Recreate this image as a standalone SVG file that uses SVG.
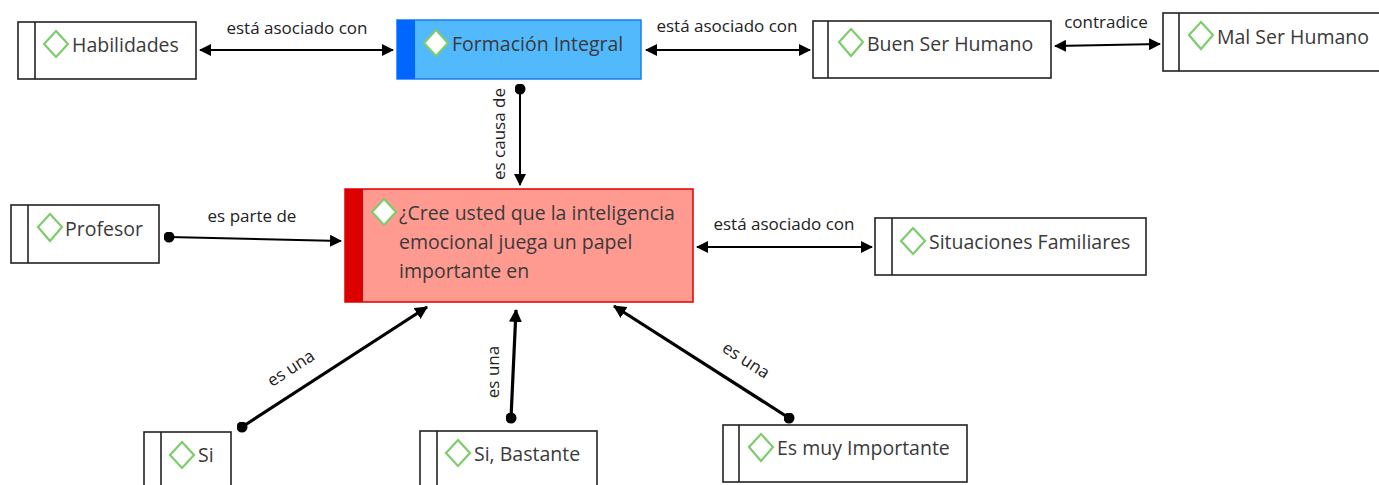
<svg xmlns="http://www.w3.org/2000/svg" width="1379" height="485" viewBox="0 0 1379 485">
<defs>
<style>
.box{fill:#fff;stroke:#222;stroke-width:1.6}
.div{stroke:#222;stroke-width:1.6}
.dia{fill:#fff;stroke:#7dcc6b;stroke-width:2.2}
.t{font-family:"Open Sans","Noto Sans",sans-serif;font-size:19.5px;fill:#3a3a3a}
.lbl{font-family:"Open Sans","Noto Sans",sans-serif;font-size:17px;fill:#222;text-anchor:middle}
.c{stroke:#000;stroke-width:2;fill:none}
.c3{stroke:#000;stroke-width:3.2;fill:none}
</style>
<marker id="ah" viewBox="0 0 12 12" refX="11" refY="6" markerWidth="12" markerHeight="12" markerUnits="userSpaceOnUse" orient="auto-start-reverse">
<path d="M0,0 L12,6 L0,12 Z" fill="#000"/>
</marker>
<marker id="ah3" viewBox="0 0 12 12" refX="11" refY="6" markerWidth="13" markerHeight="13" markerUnits="userSpaceOnUse" orient="auto-start-reverse">
<path d="M0,0 L12,6 L0,12 Z" fill="#000"/>
</marker>
<marker id="dot" viewBox="0 0 10 10" refX="5" refY="5" markerWidth="11" markerHeight="11" markerUnits="userSpaceOnUse">
<circle cx="5" cy="5" r="5" fill="#000"/>
</marker>
</defs>

<g id="connectors">
<line class="c" x1="200" y1="50" x2="393" y2="50" marker-start="url(#ah)" marker-end="url(#ah)"/>
<text class="lbl" x="297" y="34">está asociado con</text>
<line class="c" x1="646" y1="50" x2="810" y2="50" marker-start="url(#ah)" marker-end="url(#ah)"/>
<text class="lbl" x="727" y="32">está asociado con</text>
<line class="c" x1="1055" y1="46" x2="1160" y2="44" marker-start="url(#ah)" marker-end="url(#ah)"/>
<text class="lbl" x="1106" y="28">contradice</text>
<line class="c" x1="520" y1="89" x2="520" y2="185" marker-start="url(#dot)" marker-end="url(#ah)"/>
<text class="lbl" transform="translate(505,134) rotate(-90)">es causa de</text>
<line class="c" x1="169" y1="237" x2="341" y2="241" marker-start="url(#dot)" marker-end="url(#ah)"/>
<text class="lbl" x="252" y="222">es parte de</text>
<line class="c" x1="697" y1="247" x2="872" y2="247" marker-start="url(#ah)" marker-end="url(#ah)"/>
<text class="lbl" x="784" y="230">está asociado con</text>
<line class="c3" x1="242" y1="427" x2="427" y2="307" marker-start="url(#dot)" marker-end="url(#ah3)"/>
<text class="lbl" transform="translate(294,373) rotate(-33)">es una</text>
<line class="c3" x1="511" y1="418" x2="516" y2="310" marker-start="url(#dot)" marker-end="url(#ah3)"/>
<text class="lbl" transform="translate(499,372) rotate(-90)">es una</text>
<line class="c3" x1="789" y1="418" x2="614" y2="306" marker-start="url(#dot)" marker-end="url(#ah3)"/>
<text class="lbl" transform="translate(743,365) rotate(33)">es una</text>
</g>

<g id="n-habilidades">
<rect class="box" x="18" y="22" width="178" height="57"/>
<line class="div" x1="35" y1="22" x2="35" y2="79"/>
<path class="dia" d="M56,31 L68,44 L56,57 L44,44 Z"/>
<text class="t" x="72" y="52">Habilidades</text>
</g>

<g id="n-formacion">
<rect x="397" y="20" width="244" height="59" fill="#52b9fd" stroke="#1a7cf0" stroke-width="1.5"/>
<rect x="397" y="20" width="18" height="59" fill="#0066ff"/>
<path class="dia" d="M436,30 L448,43 L436,56 L424,43 Z"/>
<text class="t" x="452" y="51">Formación Integral</text>
</g>

<g id="n-buen">
<rect class="box" x="813" y="21" width="238" height="57"/>
<line class="div" x1="828" y1="21" x2="828" y2="78"/>
<path class="dia" d="M851,29 L863,42 L851,56 L839,42 Z"/>
<text class="t" x="867" y="51">Buen Ser Humano</text>
</g>

<g id="n-mal">
<rect class="box" x="1163" y="13" width="222" height="58"/>
<line class="div" x1="1179" y1="13" x2="1179" y2="71"/>
<path class="dia" d="M1201,22 L1213,35 L1201,49 L1189,35 Z"/>
<text class="t" x="1217" y="44">Mal Ser Humano</text>
</g>

<g id="n-main">
<rect x="345" y="189" width="348" height="113" fill="#ff9a91" stroke="#e00000" stroke-width="1.5"/>
<rect x="345" y="189" width="18" height="113" fill="#dd0000"/>
<path class="dia" d="M384,199 L396,212 L384,225 L372,212 Z"/>
<text class="t" x="399" y="220">¿Cree usted que la inteligencia</text>
<text class="t" x="399" y="249">emocional juega un papel</text>
<text class="t" x="399" y="278">importante en</text>
</g>

<g id="n-profesor">
<rect class="box" x="11" y="205" width="148" height="58"/>
<line class="div" x1="28" y1="205" x2="28" y2="263"/>
<path class="dia" d="M50,214 L62,227 L50,241 L38,227 Z"/>
<text class="t" x="65" y="236">Profesor</text>
</g>

<g id="n-situaciones">
<rect class="box" x="875" y="218" width="271" height="57"/>
<line class="div" x1="892" y1="218" x2="892" y2="275"/>
<path class="dia" d="M913,228 L925,241 L913,254 L901,241 Z"/>
<text class="t" x="929" y="249">Situaciones Familiares</text>
</g>

<g id="n-si">
<rect class="box" x="144" y="432" width="87" height="60"/>
<line class="div" x1="161" y1="432" x2="161" y2="492"/>
<path class="dia" d="M182,442 L194,455 L182,468 L170,455 Z"/>
<text class="t" x="198" y="462">Si</text>
</g>

<g id="n-bastante">
<rect class="box" x="420" y="431" width="177" height="60"/>
<line class="div" x1="437" y1="431" x2="437" y2="491"/>
<path class="dia" d="M458,440 L470,453 L458,466 L446,453 Z"/>
<text class="t" x="474" y="461">Si, Bastante</text>
</g>

<g id="n-muy">
<rect class="box" x="723" y="425" width="244" height="57"/>
<line class="div" x1="739" y1="425" x2="739" y2="482"/>
<path class="dia" d="M761,434 L773,447 L761,461 L749,447 Z"/>
<text class="t" x="777" y="455">Es muy Importante</text>
</g>
</svg>
